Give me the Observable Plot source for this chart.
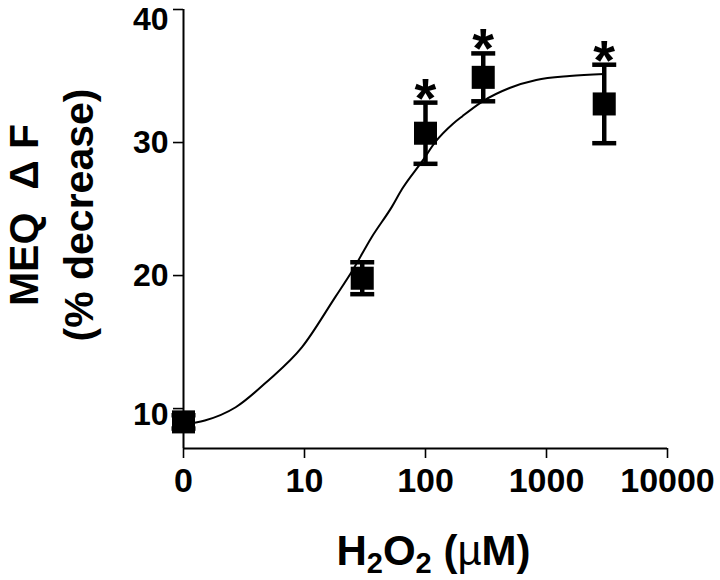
<!DOCTYPE html>
<html>
<head>
<meta charset="utf-8">
<script src="https://cdn.jsdelivr.net/npm/d3@7"></script>
<script src="https://cdn.jsdelivr.net/npm/@observablehq/plot@0.6"></script>
<style>
  html, body { margin: 0; padding: 0; background: #fff; }
  #chart { width: 720px; height: 580px; }
</style>
</head>
<body>
<div id="chart"></div>
<script>
// H2O2 concentrations (µM); 0 is drawn at the "0" tick of the log axis
const doses = [0, 30, 100, 300, 3000];
const means = [9.0, 19.8, 30.7, 34.9, 32.9];
const sems = [0.5, 1.2, 2.3, 1.8, 2.95];
const significant = [false, false, true, true, true];

// fitted curve
const fitDoses = [1, 1.5, 2.7, 5, 9.5, 18, 25, 36, 53, 64, 94, 122, 168, 203, 297, 495, 823, 1550, 3000];
const fitValues = [8.8, 9.1, 10.1, 12.1, 14.6, 18.4, 20.4, 22.9, 25.2, 26.5, 28.6, 30.1, 31.4, 32.0, 33.1, 34.1, 34.7, 35.0, 35.15];

const xTickValues = [1, 10, 100, 1000, 10000];
const xTickLabels = ["0", "10", "100", "1000", "10000"];
const yTickValues = [10, 20, 30, 40];

const yTitle = "MEQ  Δ F\n(% decrease)";
const xTitle = "H2O2 (µM)";

const axisPos = d => (d === 0 ? 1 : d);
const rows = doses.map((d, i) => ({
  dose: axisPos(d), mean: means[i], lo: means[i] - sems[i], hi: means[i] + sems[i], sig: significant[i]
}));
const fit = fitDoses.map((d, i) => ({dose: d, value: fitValues[i]}));

const capSymbol = {
  draw(context) { context.moveTo(-12, 0); context.lineTo(12, 0); }
};

const chart = Plot.plot({
  width: 720,
  height: 580,
  marginLeft: 183,
  marginRight: 53,
  marginTop: 9,
  marginBottom: 132,
  style: {fontFamily: "'Liberation Sans', Arial, sans-serif", fontWeight: "bold", background: "#fff", color: "#000"},
  x: {type: "log", domain: [1, 10000]},
  y: {domain: [7, 40]},
  marks: [
    Plot.axisX({ticks: xTickValues, tickFormat: d => xTickLabels[xTickValues.indexOf(d)], tickSize: 10, tickPadding: 9, fontSize: 34, strokeWidth: 1.6, label: null}),
    Plot.axisY({ticks: yTickValues, tickSize: 10, tickPadding: 5, fontSize: 32, strokeWidth: 1.6, label: null}),
    Plot.ruleY([7], {strokeWidth: 2}),
    Plot.ruleX([1], {y1: 7, y2: 40, strokeWidth: 2}),
    Plot.line(fit, {x: "dose", y: "value", curve: "monotone-x", strokeWidth: 2}),
    Plot.ruleX(rows, {x: "dose", y1: "lo", y2: "hi", strokeWidth: 4.5}),
    Plot.dot(rows, {x: "dose", y: "hi", symbol: capSymbol, fill: "none", stroke: "#000", strokeWidth: 4.5, r: 1}),
    Plot.dot(rows, {x: "dose", y: "lo", symbol: capSymbol, fill: "none", stroke: "#000", strokeWidth: 4.5, r: 1}),
    Plot.dot(rows, {x: "dose", y: "mean", symbol: "square", r: 13, fill: "#000", stroke: "none"}),
    Plot.text(rows.filter(d => d.sig), {x: "dose", y: "hi", text: () => "*", fontSize: 56, dy: -4}),
    Plot.text([yTitle], {text: d => d, frameAnchor: "left", textAnchor: "middle", lineAnchor: "middle", rotate: -90, dx: -136, dy: -14, fontSize: 41, lineHeight: 1.35}),
    Plot.text([xTitle], {text: d => d, frameAnchor: "bottom", textAnchor: "middle", lineAnchor: "middle", dx: 8, dy: 103, fontSize: 42})
  ]
});

document.getElementById("chart").appendChild(chart);

// rebuild the x title with real subscripts
d3.select(chart).selectAll("text").filter(function() { return this.textContent === xTitle; }).each(function() {
  const t = d3.select(this);
  t.text(null);
  t.append("tspan").text("H");
  t.append("tspan").attr("dy", 8).attr("font-size", 29).text("2");
  t.append("tspan").attr("dy", -8).text("O");
  t.append("tspan").attr("dy", 8).attr("font-size", 29).text("2");
  t.append("tspan").attr("dy", -8).text(" (");
  t.append("tspan").attr("font-weight", "normal").text("µ");
  t.append("tspan").text("M)");
});

// the top and bottom y labels sit a little low in the reference
const labelShift = {"40": 10, "10": 6};
d3.select(chart).selectAll("g[aria-label='y-axis tick label'] text").each(function() {
  const s = labelShift[this.textContent];
  if (s) this.setAttribute("transform", (this.getAttribute("transform") || "") + ` translate(0,${s})`);
});
</script>
</body>
</html>
